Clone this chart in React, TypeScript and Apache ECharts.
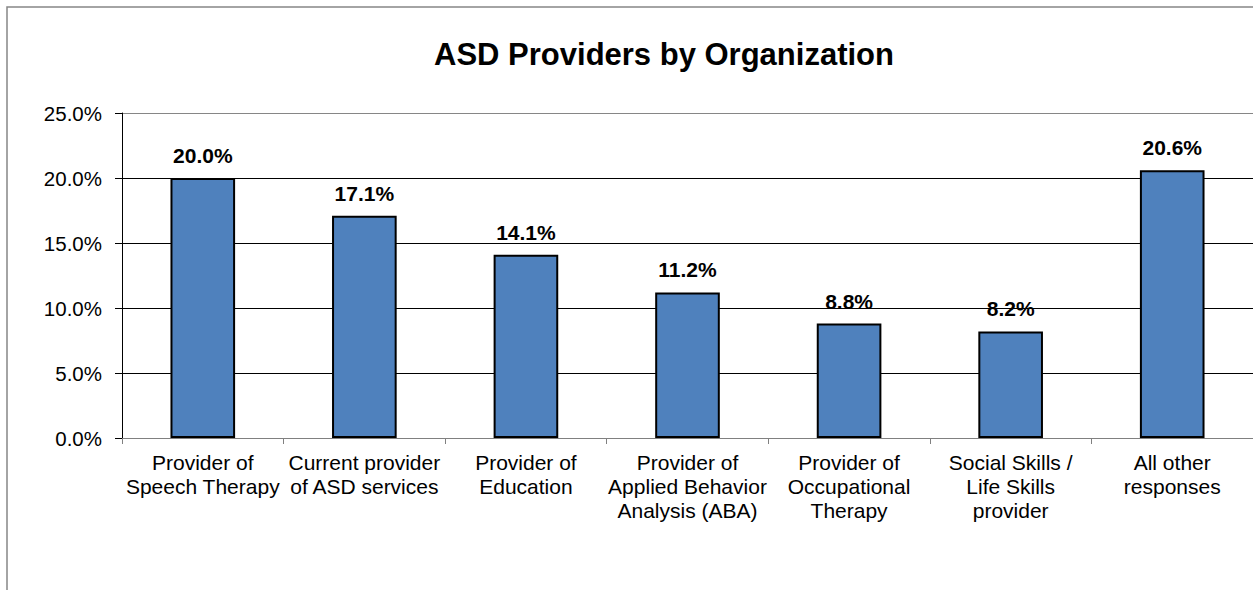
import React, { useEffect, useRef } from "react";
import * as echarts from "echarts";

const categories = [
  "Provider of\nSpeech Therapy",
  "Current provider\nof ASD services",
  "Provider of\nEducation",
  "Provider of\nApplied Behavior\nAnalysis (ABA)",
  "Provider of\nOccupational\nTherapy",
  "Social Skills /\nLife Skills\nprovider",
  "All other\nresponses",
];
const values = [20.0, 17.1, 14.1, 11.2, 8.8, 8.2, 20.6];
const yTicks = [0, 5, 10, 15, 20, 25];
const titleText = "ASD Providers by Organization";

const FONT = "'Liberation Sans', Arial, sans-serif";

export default function App() {
  const ref = useRef<HTMLDivElement>(null);
  useEffect(() => {
    document.body.style.margin = "0";
    const chart = echarts.init(ref.current!, null, { renderer: "svg" });
    chart.setOption({
      animation: false,
      backgroundColor: "#ffffff",
      textStyle: { fontFamily: FONT },
      title: {
        text: titleText,
        left: 659,
        top: 34,
        textAlign: "center",
        textStyle: { fontFamily: FONT, fontSize: 31, fontWeight: "bold", color: "#000" },
      },
      graphic: [
        {
          type: "rect",
          shape: { x: 7, y: 7, width: 1400, height: 800 },
          style: { fill: "none", stroke: "#868686", lineWidth: 1.5 },
          silent: true,
          z: 100,
        },
      ],
      grid: {
        left: 122,
        top: 113,
        right: 0,
        bottom: 152,
        containLabel: false,
        outerBoundsMode: "none",
      },
      xAxis: {
        type: "category",
        data: categories,
        axisLine: { show: true, lineStyle: { color: "#808080", width: 1 } },
        axisTick: { show: true, length: 6, alignWithLabel: false, lineStyle: { color: "#808080" } },
        axisLabel: {
          interval: 0,
          margin: 12,
          fontFamily: FONT,
          fontSize: 21,
          lineHeight: 24,
          color: "#000",
        },
      },
      yAxis: {
        type: "value",
        min: 0,
        max: 25,
        interval: 5,
        axisLine: { show: true, lineStyle: { color: "#000", width: 1 } },
        axisTick: { show: true, length: 7, lineStyle: { color: "#000" } },
        axisLabel: {
          margin: 20,
          fontFamily: FONT,
          fontSize: 20.5,
          color: "#000",
          formatter: (v: number) => (yTicks.includes(v) ? v.toFixed(1) + "%" : ""),
        },
        splitLine: {
          show: true,
          lineStyle: { color: ["#808080", "#000", "#000", "#000", "#000", "#868686"], width: 1 },
        },
      },
      series: [
        {
          type: "bar",
          data: values,
          barWidth: "40%",
          itemStyle: { color: "#4F81BD", borderColor: "#000", borderWidth: 2 },
          label: {
            show: true,
            position: "top",
            distance: 12,
            fontFamily: FONT,
            fontSize: 21,
            fontWeight: "bold",
            color: "#000",
            formatter: (p: any) => Number(p.value).toFixed(1) + "%",
          },
        },
      ],
    });
    return () => chart.dispose();
  }, []);
  return <div ref={ref} style={{ width: 1253, height: 590 }} />;
}
